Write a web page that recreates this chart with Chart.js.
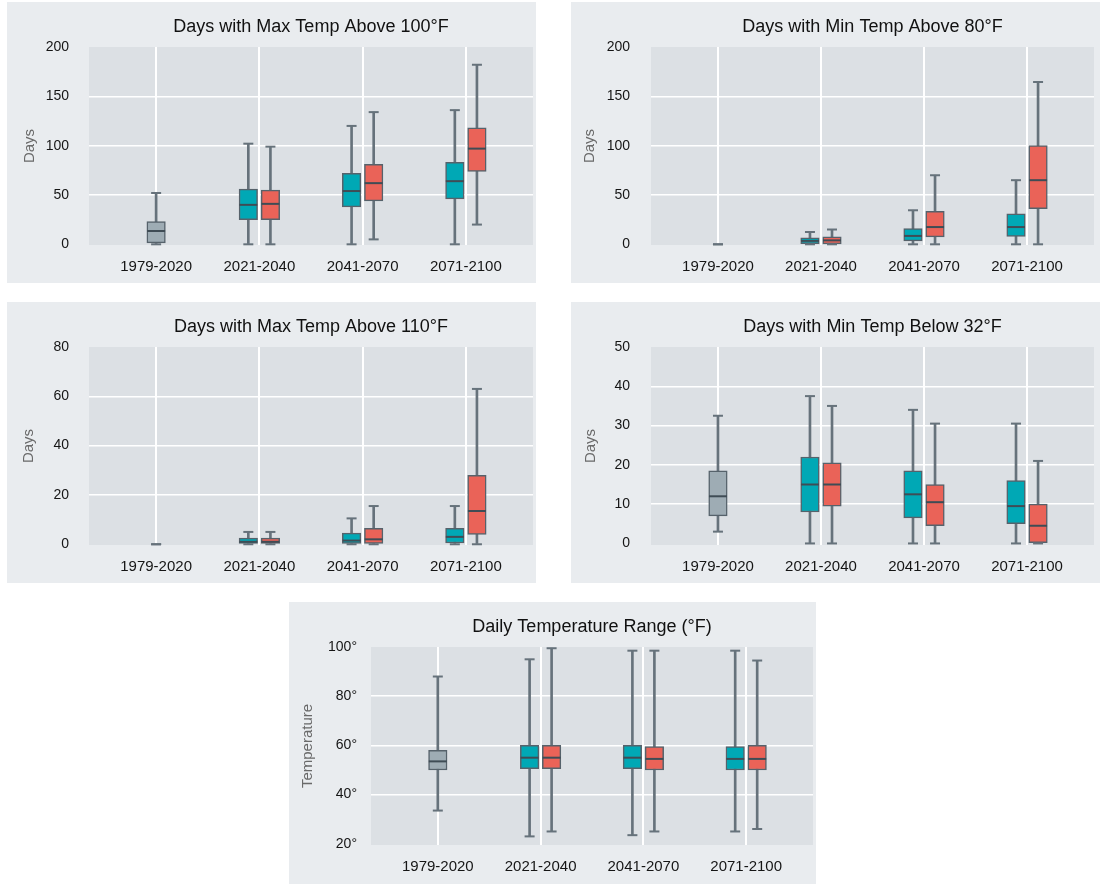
<!DOCTYPE html>
<html><head><meta charset="utf-8">
<script src="https://cdn.jsdelivr.net/npm/chart.js@4/dist/chart.umd.min.js"></script>
<style>
body{margin:0;background:#fff;width:1100px;height:884px;position:relative;overflow:hidden;font-family:"Liberation Sans",Arial,sans-serif}
.panel{position:absolute;background:#e9ecef}
canvas{display:block}
</style></head><body>
<div class="panel" style="left:7px;top:2px;width:529px;height:281px"><canvas id="c1" width="529" height="281"></canvas></div>
<div class="panel" style="left:571px;top:2px;width:529px;height:281px"><canvas id="c2" width="529" height="281"></canvas></div>
<div class="panel" style="left:7px;top:302px;width:529px;height:281px"><canvas id="c3" width="529" height="281"></canvas></div>
<div class="panel" style="left:571px;top:302px;width:529px;height:281px"><canvas id="c4" width="529" height="281"></canvas></div>
<div class="panel" style="left:289px;top:602px;width:527px;height:282px"><canvas id="c5" width="527" height="282"></canvas></div>
<script>
// ---------- DATA ----------
const periods = ['1979-2020', '2021-2040', '2041-2070', '2071-2100'];
// each box: [min, q1, median, q3, max]; historical -> 1979-2020, series A (teal) / B (red) -> future periods
const max100Hist = [[0, 1.5, 13.5, 23, 52]];
const max100A = [[0, 25, 40, 56, 102], [0, 38, 54, 72, 120], [0, 46, 64, 83, 136]];
const max100B = [[0, 25, 41, 55, 99], [5, 44, 62, 81, 134], [20, 74, 97, 118, 182]];

const min80Hist = [[0, 0, 0, 0, 0]];
const min80A = [[0, 0, 3.5, 6.5, 12.5], [0, 3.5, 8.5, 16, 34.5], [0, 8, 17.5, 31, 65]];
const min80B = [[0, 0.5, 4, 7.5, 15], [0, 7.5, 17.5, 33.5, 70], [0, 36, 65, 100, 164.5]];

const max110Hist = [[0, 0, 0, 0, 0]];
const max110A = [[0, 0, 1, 2.5, 5], [0, 0, 1.5, 4.5, 10.5], [0, 0.5, 3, 6.5, 15.5]];
const max110B = [[0, 0, 1, 2.5, 5], [0, 0, 2, 6.5, 15.5], [0, 4, 13.5, 28, 63]];

const below32Hist = [[3, 7, 12, 18.5, 32.5]];
const below32A = [[0, 8, 15, 22, 37.5], [0, 6.5, 12.5, 18.5, 34], [0, 5, 9.5, 16, 30.5]];
const below32B = [[0, 9.5, 15, 20.5, 35], [0, 4.5, 10.5, 15, 30.5], [0, 0, 4.5, 10, 21]];

const rangeHist = [[33.5, 50, 53.5, 58, 88]];
const rangeA = [[23, 50.5, 55, 60, 95], [23.5, 50.5, 55, 60, 98.5], [25, 50, 54.5, 59.5, 98.5]];
const rangeB = [[25, 50.5, 55, 60, 99.5], [25, 50, 54.5, 59.5, 98.5], [26, 50, 54.5, 60, 94.5]];

const daysTicks200 = [0, 50, 100, 150, 200];
const daysTicks80 = [0, 20, 40, 60, 80];
const daysTicks50 = [0, 10, 20, 30, 40, 50];
const tempTicks = [20, 40, 60, 80, 100];
const tempTickLabels = ['20°', '40°', '60°', '80°', '100°'];

// ---------- STYLE ----------
Chart.defaults.font.family = '"Liberation Sans", Arial, sans-serif';
const COLORS = { hist: '#9eacb4', a: '#00a8b5', b: '#ea6358' };
const EDGE = '#56626b', WHISK = '#66727b', MED = '#3f4c55';
const OFF = 0.107;

const plotBg = {
  id: 'plotBg',
  beforeDraw(chart) {
    const { ctx, chartArea: a } = chart;
    ctx.save(); ctx.fillStyle = '#dce0e4';
    ctx.fillRect(a.left, a.top, a.right - a.left, a.bottom - a.top);
    ctx.restore();
  }
};
const panelTitle = {
  id: 'panelTitle',
  afterDraw(chart, args, opts) {
    const { ctx, chartArea: a } = chart;
    ctx.save();
    ctx.font = '18px "Liberation Sans", Arial, sans-serif';
    ctx.fillStyle = '#111'; ctx.textAlign = 'center'; ctx.textBaseline = 'alphabetic';
    ctx.fillText(opts.text, (a.left + a.right) / 2, opts.y);
    ctx.restore();
  }
};

function makeChart(id, p) {
  const groups = [];
  p.hist.forEach((s, i) => groups.push({ x: i, s, c: COLORS.hist }));
  p.a.forEach((s, i) => groups.push({ x: i + 1 - OFF, s, c: COLORS.a }));
  p.b.forEach((s, i) => groups.push({ x: i + 1 + OFF, s, c: COLORS.b }));

  const whiskers = { type: 'bar', data: groups.map(g => ({ x: g.x, y: [g.s[0], g.s[4]] })),
    backgroundColor: WHISK, grouped: false, maxBarThickness: 2, barPercentage: 1, categoryPercentage: 1,
    borderWidth: 0, order: 5 };
  const boxes = ['hist', 'a', 'b'].map(k => ({
    type: 'bar',
    data: groups.filter(g => g.c === COLORS[k]).map(g => ({ x: g.x, y: [g.s[1], g.s[3]] })),
    backgroundColor: COLORS[k], borderColor: EDGE, borderWidth: 1.5, borderSkipped: false,
    grouped: false, maxBarThickness: 18.5, barPercentage: 1, categoryPercentage: 1, order: 4
  }));
  const caps = { type: 'scatter', data: groups.flatMap(g => [{ x: g.x, y: g.s[0] }, { x: g.x, y: g.s[4] }]),
    pointStyle: 'line', pointRadius: 5, pointBorderWidth: 2, pointBorderColor: WHISK, borderColor: WHISK,
    clip: false, order: 1 };
  const medians = { type: 'scatter', data: groups.filter(g => g.s[3] > g.s[1]).map(g => ({ x: g.x, y: g.s[2] })),
    pointStyle: 'line', pointRadius: 9, pointBorderWidth: 2, pointBorderColor: MED, borderColor: MED,
    clip: false, order: 2 };

  const yT = p.ticks;
  new Chart(document.getElementById(id), {
    type: 'bar',
    data: { datasets: [whiskers, ...boxes, medians, caps] },
    plugins: [plotBg, panelTitle],
    options: {
      responsive: false, animation: false, events: [],
      layout: { autoPadding: false, padding: { top: 45, right: p.right, left: 0, bottom: 0 } },
      plugins: { legend: { display: false }, tooltip: { enabled: false },
        panelTitle: { text: p.title, y: 29.5 } },
      scales: {
        x: {
          type: 'linear', min: -0.65, max: 3.65, offset: false,
          afterBuildTicks: s => { s.ticks = periods.map((_, i) => ({ value: i })); },
          afterFit: s => { s.height = p.xH; s.paddingLeft = 0; s.paddingRight = 0; },
          grid: { color: '#ffffff', lineWidth: 2, drawTicks: false, offset: false },
          border: { display: false },
          ticks: { callback: v => periods[v], padding: 13, color: '#151515', font: { size: 15 }, autoSkip: false, maxRotation: 0 }
        },
        y: {
          min: p.min, max: p.max,
          afterBuildTicks: s => { s.ticks = yT.map(v => ({ value: v })); },
          afterFit: s => { s.width = p.yW; s.paddingTop = 0; s.paddingBottom = 0; },
          grid: { color: c => (c.index === 0 || c.index === yT.length - 1) ? 'rgba(0,0,0,0)' : '#ffffff', lineWidth: 1.5, drawTicks: false },
          border: { display: false },
          ticks: { callback: (v, i) => p.labels[i], padding: p.tickPad, color: '#151515', font: { size: 14 } },
          title: { display: true, text: p.yTitle, color: '#6a6a6a', font: { size: 15 }, padding: { top: p.titlePad, bottom: 0 } }
        }
      }
    }
  });
}

makeChart('c1', { title: 'Days with Max Temp Above 100°F', yTitle: 'Days', hist: max100Hist, a: max100A, b: max100B,
  ticks: daysTicks200, labels: daysTicks200.map(String), min: -0.7, max: 200, right: 3, yW: 82, xH: 38, tickPad: 20, titlePad: 14 });
makeChart('c2', { title: 'Days with Min Temp Above 80°F', yTitle: 'Days', hist: min80Hist, a: min80A, b: min80B,
  ticks: daysTicks200, labels: daysTicks200.map(String), min: -0.7, max: 200, right: 6, yW: 80, xH: 38, tickPad: 21, titlePad: 10 });
makeChart('c3', { title: 'Days with Max Temp Above 110°F', yTitle: 'Days', hist: max110Hist, a: max110A, b: max110B,
  ticks: daysTicks80, labels: daysTicks80.map(String), min: -0.3, max: 80, right: 3, yW: 82, xH: 38, tickPad: 20, titlePad: 13 });
makeChart('c4', { title: 'Days with Min Temp Below 32°F', yTitle: 'Days', hist: below32Hist, a: below32A, b: below32B,
  ticks: daysTicks50, labels: daysTicks50.map(String), min: -0.4, max: 50, right: 6, yW: 80, xH: 38, tickPad: 21, titlePad: 11 });
makeChart('c5', { title: 'Daily Temperature Range (°F)', yTitle: 'Temperature', hist: rangeHist, a: rangeA, b: rangeB,
  ticks: tempTicks, labels: tempTickLabels, min: 19.5, max: 100, right: 3, yW: 82, xH: 39, tickPad: 14, titlePad: 10 });
</script>
</body></html>
